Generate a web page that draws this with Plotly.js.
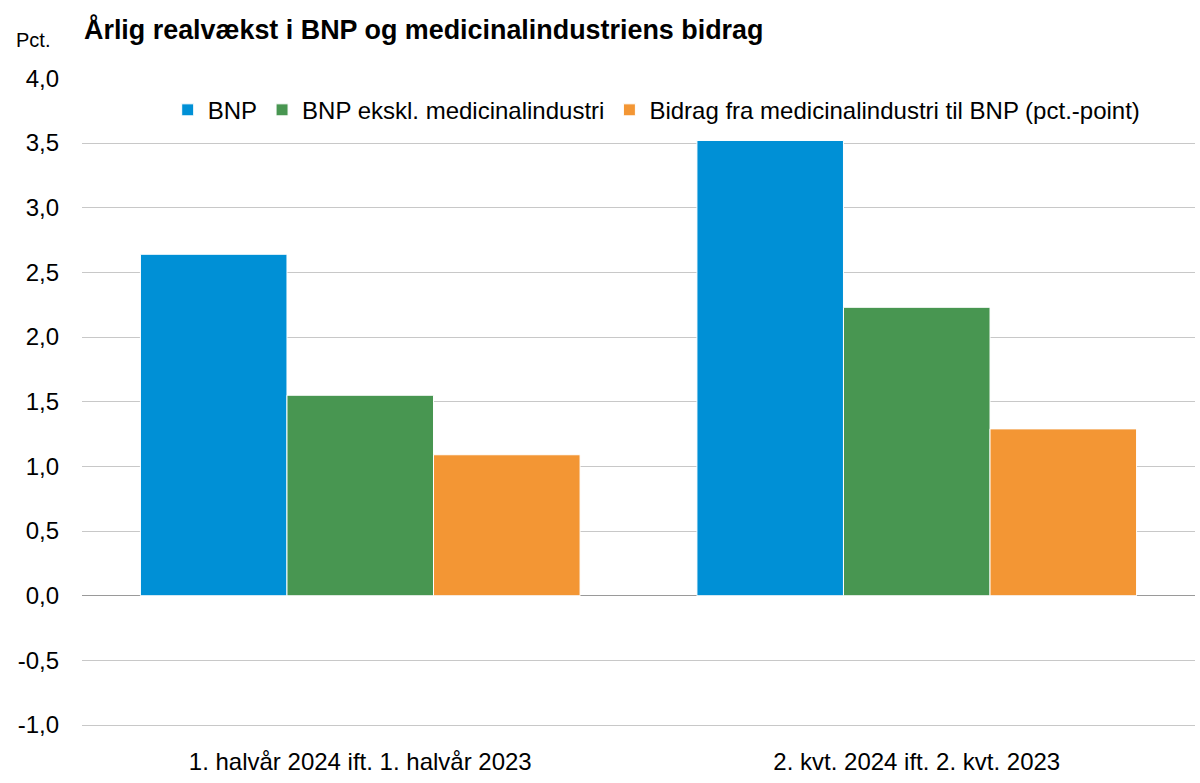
<!DOCTYPE html>
<html>
<head>
<meta charset="utf-8">
<script src="https://cdn.plot.ly/plotly-3.0.1.min.js"></script>
<style>html,body{margin:0;padding:0;background:#fff;}#chart{width:1200px;height:783px;}</style>
</head>
<body>
<div id="chart"></div>
<script>
const categories = ["1. halvår 2024 ift. 1. halvår 2023", "2. kvt. 2024 ift. 2. kvt. 2023"];
const seriesNames = ["BNP", "BNP ekskl. medicinalindustri", "Bidrag fra medicinalindustri til BNP (pct.-point)"];
const bnp = [2.64, 3.52];
const bnpEkskl = [1.55, 2.23];
const bidrag = [1.09, 1.29];
const yTickVals = [-1, -0.5, 0, 0.5, 1, 1.5, 2, 2.5, 3, 3.5, 4];
const yTickText = ["-1,0", "-0,5", "0,0", "0,5", "1,0", "1,5", "2,0", "2,5", "3,0", "3,5", "4,0"];
const colors = ["#0090d6", "#489651", "#f39634"];
const FONT = "'Liberation Sans Narrow', 'Arial Narrow', 'Liberation Sans', Arial, sans-serif";

const values = [bnp, bnpEkskl, bidrag];
const traces = values.map((v, i) => ({
  type: "bar",
  name: seriesNames[i],
  x: categories,
  y: v,
  marker: {color: colors[i], line: {color: "#ffffff", width: 1}},
  hoverinfo: "y"
}));

const layout = {
  width: 1200, height: 783,
  margin: {l: 82, r: 5, t: 78, b: 56},
  paper_bgcolor: "#fff", plot_bgcolor: "#fff",
  font: {family: FONT, size: 22, color: "#000"},
  barmode: "group",
  bargap: 0.21,
  bargroupgap: 0,
  showlegend: true,
  legend: {orientation: "h", x: 0.077, y: 0.985, xanchor: "left", yanchor: "top",
    font: {family: FONT, size: 24}, itemwidth: 30, traceorder: "normal", bgcolor: "rgba(0,0,0,0)"},
  xaxis: {type: "category", showgrid: false, zeroline: false, showline: false, ticks: "",
    tickfont: {family: FONT, size: 24}, automargin: false, ticklabelstandoff: 18},
  yaxis: {range: [-1.015, 4.003], tickvals: yTickVals, ticktext: yTickText, showgrid: true,
    gridcolor: "#c8c8c8", gridwidth: 1, zeroline: true, zerolinecolor: "#9a9a9a", zerolinewidth: 1.5,
    ticks: "", tickfont: {family: FONT, size: 24}, automargin: false, ticklabelstandoff: 22},
  annotations: [
    {text: "<b>Årlig realvækst i BNP og medicinalindustriens bidrag</b>", xref: "paper", yref: "paper",
     x: 0, y: 1, yshift: 49, xanchor: "left", yanchor: "middle", showarrow: false,
     font: {family: FONT, size: 26.9, color: "#000"}},
    {text: "Pct.", xref: "paper", yref: "paper", x: 0, xshift: -68, y: 1, yshift: 38,
     xanchor: "left", yanchor: "middle", showarrow: false, font: {family: FONT, size: 20, color: "#000"}}
  ]
};

Plotly.newPlot("chart", traces, layout, {displayModeBar: false, staticPlot: true});
</script>
</body>
</html>
